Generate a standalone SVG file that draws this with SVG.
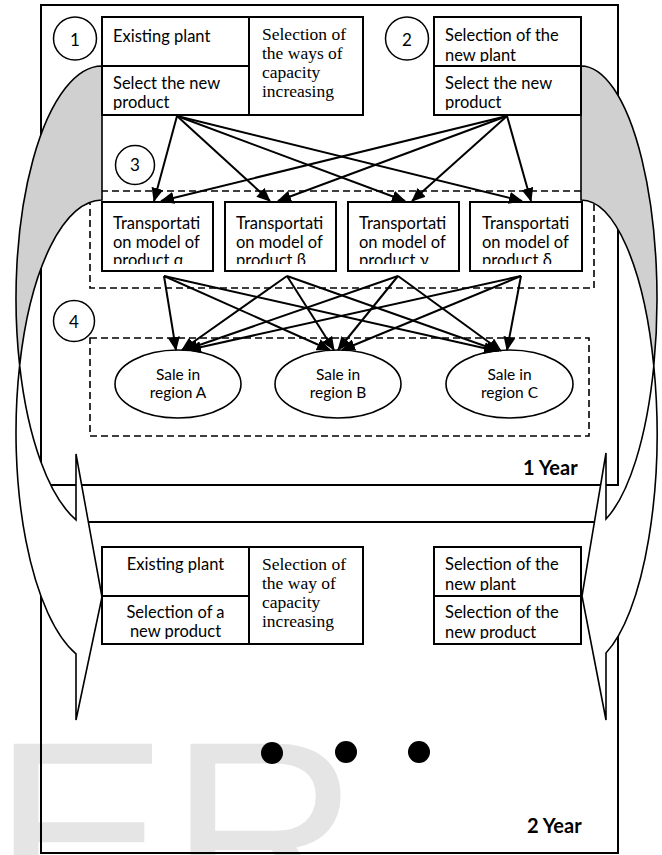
<svg xmlns="http://www.w3.org/2000/svg" width="662" height="855" viewBox="0 0 662 855">
<style>
.frame{fill:none;stroke:#000;stroke-width:2}
.box{fill:#fff;stroke:#000;stroke-width:2}
.dash{fill:none;stroke:#000;stroke-width:1.6;stroke-dasharray:7 4}
.circ{fill:#fff;stroke:#000;stroke-width:1.5}
.ell{fill:#fff;stroke:#000;stroke-width:1.6}
.gray{fill:#d0d0d0;stroke:#000;stroke-width:1.6}
.white{fill:#fff;stroke:#000;stroke-width:1.6}
.t{font-family:Lato,"Open Sans",sans-serif;font-size:16.5px;fill:#000}
.tc{font-family:Lato,"Open Sans",sans-serif;font-size:16.5px;fill:#000;text-anchor:middle}
.te{font-family:Lato,"Open Sans",sans-serif;font-size:15.5px;fill:#000;text-anchor:middle}
.s{font-family:"Liberation Serif","Times New Roman",serif;font-size:17.5px;fill:#000}
.yr{font-family:Lato,"Open Sans",sans-serif;font-size:20px;font-weight:bold;fill:#000}
.num{font-family:Lato,"Open Sans",sans-serif;font-size:17px;fill:#000;text-anchor:middle}
.wm{font-family:"Liberation Sans",Arial,sans-serif;font-size:265px;fill:#e5e5e5}
.c{fill:none;stroke:#000;stroke-width:2;marker-end:url(#ah)}
</style>
<defs>
<marker id="ah" markerUnits="userSpaceOnUse" markerWidth="14" markerHeight="12" refX="13" refY="6" orient="auto">
<path d="M0,0 L14,6 L0,12 Z" fill="#000"/>
</marker>
<clipPath id="cpA"><rect x="102" y="66" width="147" height="44"/></clipPath>
<clipPath id="cpB1"><rect x="434" y="17" width="147" height="45"/></clipPath>
<clipPath id="cpB2"><rect x="434" y="66" width="147" height="44"/></clipPath>
<clipPath id="cpT"><rect x="0" y="202" width="662" height="62"/></clipPath>
<clipPath id="cp2L"><rect x="102" y="596" width="147" height="43"/></clipPath>
<clipPath id="cp2R1"><rect x="434" y="547" width="147" height="44"/></clipPath>
<clipPath id="cp2R2"><rect x="434" y="596" width="147" height="43"/></clipPath>
</defs>

<g id="watermark">
<text class="wm" x="-8" y="926">ER</text>
</g>

<g id="frame-year1">
<rect class="frame" x="41" y="5" width="577" height="480"/>
<text class="yr" x="523" y="475">1 Year</text>
</g>
<g id="frame-year2">
<rect class="frame" x="41" y="522" width="577" height="331"/>
<text class="yr" x="527" y="833">2 Year</text>
</g>

<g id="group3-dashed"><rect class="dash" x="90" y="191" width="504" height="97"/></g>
<g id="group4-dashed"><rect class="dash" x="90" y="338" width="499" height="98"/></g>

<g id="curved-arrow-left">
<path class="gray" d="M102,66 A86,232.4 0 0,0 19.65,365.4 A86,232.4 0 0,1 102,200 Z"/>
<path class="white" d="M19.65,365.4 A86,232.4 0 0,0 76,519.9 L76,454 L102,597 L76,720 L76,653.9 A86,232.4 0 0,1 19.65,365.4 Z"/>
</g>
<g id="curved-arrow-right">
<path class="gray" d="M581,66 A76,233 0 0,1 653.8,366 A76,233 0 0,0 581,200 Z"/>
<path class="white" d="M653.8,366 A76,233 0 0,1 606,519 L606,453 L582,596 L606,720 L606,653 A76,233 0 0,0 653.8,366 Z"/>
</g>

<g id="circle1"><circle class="circ" cx="75" cy="38.5" r="21.5"/><text class="num" x="75" y="46">1</text></g>
<g id="circle2"><circle class="circ" cx="407" cy="38.5" r="21.5"/><text class="num" x="407" y="46">2</text></g>
<g id="circle3"><circle class="circ" cx="135" cy="165" r="19.5"/><text class="num" x="135" y="171">3</text></g>
<g id="circle4"><circle class="circ" cx="74" cy="321" r="20.5"/><text class="num" x="74" y="328">4</text></g>

<g id="box1-existing-plant">
<rect class="box" x="102" y="17" width="147" height="49"/>
<text class="t" x="113" y="42">Existing plant</text>
</g>
<g id="box1-select-product">
<rect class="box" x="102" y="66" width="147" height="49"/>
<text class="t" clip-path="url(#cpA)"><tspan x="113" y="89">Select the new</tspan><tspan x="113" y="107.5">product</tspan></text>
</g>
<g id="box1-capacity">
<rect class="box" x="249" y="17" width="114" height="98"/>
<text class="s"><tspan x="262" y="40">Selection of</tspan><tspan x="262" y="59">the ways of</tspan><tspan x="262" y="78">capacity</tspan><tspan x="262" y="97">increasing</tspan></text>
</g>
<g id="box2-new-plant">
<rect class="box" x="434" y="17" width="147" height="49"/>
<text class="t" clip-path="url(#cpB1)"><tspan x="445" y="41">Selection of the</tspan><tspan x="445" y="60.5">new plant</tspan></text>
</g>
<g id="box2-select-product">
<rect class="box" x="434" y="66" width="147" height="49"/>
<text class="t" clip-path="url(#cpB2)"><tspan x="445" y="89">Select the new</tspan><tspan x="445" y="107.5">product</tspan></text>
</g>

<g id="transport-alpha">
<rect class="box" x="102" y="202" width="111" height="69"/>
<text class="t" clip-path="url(#cpT)"><tspan x="113" y="229">Transportati</tspan><tspan x="113" y="247.5">on model of</tspan><tspan x="113" y="266">product α</tspan></text>
</g>
<g id="transport-beta">
<rect class="box" x="225" y="202" width="111" height="69"/>
<text class="t" clip-path="url(#cpT)"><tspan x="236" y="229">Transportati</tspan><tspan x="236" y="247.5">on model of</tspan><tspan x="236" y="266">product β</tspan></text>
</g>
<g id="transport-gamma">
<rect class="box" x="348" y="202" width="111" height="69"/>
<text class="t" clip-path="url(#cpT)"><tspan x="359" y="229">Transportati</tspan><tspan x="359" y="247.5">on model of</tspan><tspan x="359" y="266">product γ</tspan></text>
</g>
<g id="transport-delta">
<rect class="box" x="470" y="202" width="112" height="69"/>
<text class="t" clip-path="url(#cpT)"><tspan x="482" y="229">Transportati</tspan><tspan x="482" y="247.5">on model of</tspan><tspan x="482" y="266">product δ</tspan></text>
</g>

<g id="sale-A"><ellipse class="ell" cx="178" cy="384" rx="63" ry="34"/><text class="te"><tspan x="178" y="380">Sale in</tspan><tspan x="178" y="398">region A</tspan></text></g>
<g id="sale-B"><ellipse class="ell" cx="338" cy="384" rx="63" ry="34"/><text class="te"><tspan x="338" y="380">Sale in</tspan><tspan x="338" y="398">region B</tspan></text></g>
<g id="sale-C"><ellipse class="ell" cx="509.5" cy="384" rx="63.5" ry="34"/><text class="te"><tspan x="509.5" y="380">Sale in</tspan><tspan x="509.5" y="398">region C</tspan></text></g>

<g id="connectors">
<line class="c" x1="177" y1="116" x2="154" y2="201"/>
<line class="c" x1="177" y1="116" x2="270" y2="201"/>
<line class="c" x1="177" y1="116" x2="405" y2="201"/>
<line class="c" x1="177" y1="116" x2="522" y2="201"/>
<line class="c" x1="507" y1="116" x2="161" y2="201"/>
<line class="c" x1="507" y1="116" x2="278" y2="201"/>
<line class="c" x1="507" y1="116" x2="412" y2="201"/>
<line class="c" x1="507" y1="116" x2="531" y2="201"/>
<line class="c" x1="164" y1="276" x2="176" y2="350"/>
<line class="c" x1="164" y1="276" x2="330" y2="350"/>
<line class="c" x1="164" y1="276" x2="497" y2="351"/>
<line class="c" x1="287" y1="276" x2="182" y2="350"/>
<line class="c" x1="287" y1="276" x2="334" y2="350"/>
<line class="c" x1="287" y1="276" x2="499" y2="351"/>
<line class="c" x1="398" y1="276" x2="185" y2="350"/>
<line class="c" x1="398" y1="276" x2="338" y2="350"/>
<line class="c" x1="398" y1="276" x2="501" y2="351"/>
<line class="c" x1="521" y1="276" x2="188" y2="350"/>
<line class="c" x1="521" y1="276" x2="342" y2="350"/>
<line class="c" x1="521" y1="276" x2="507" y2="350"/>
</g>

<g id="box3-existing-plant">
<rect class="box" x="102" y="547" width="147" height="49"/>
<text class="tc" x="175.5" y="570">Existing plant</text>
</g>
<g id="box3-select-product">
<rect class="box" x="102" y="596" width="147" height="48"/>
<text class="tc" clip-path="url(#cp2L)"><tspan x="175.5" y="618">Selection of a</tspan><tspan x="175.5" y="637">new product</tspan></text>
</g>
<g id="box3-capacity">
<rect class="box" x="249" y="547" width="114" height="97"/>
<text class="s"><tspan x="262" y="570">Selection of</tspan><tspan x="262" y="589">the way of</tspan><tspan x="262" y="608">capacity</tspan><tspan x="262" y="627">increasing</tspan></text>
</g>
<g id="box4-new-plant">
<rect class="box" x="434" y="547" width="147" height="49"/>
<text class="t" clip-path="url(#cp2R1)"><tspan x="445" y="570">Selection of the</tspan><tspan x="445" y="589.5">new plant</tspan></text>
</g>
<g id="box4-select-product">
<rect class="box" x="434" y="596" width="147" height="48"/>
<text class="t" clip-path="url(#cp2R2)"><tspan x="445" y="618">Selection of the</tspan><tspan x="445" y="637.5">new product</tspan></text>
</g>

<g id="dots">
<circle cx="272" cy="753" r="11" fill="#000"/>
<circle cx="346" cy="752" r="11" fill="#000"/>
<circle cx="419" cy="752" r="11" fill="#000"/>
</g>
</svg>
